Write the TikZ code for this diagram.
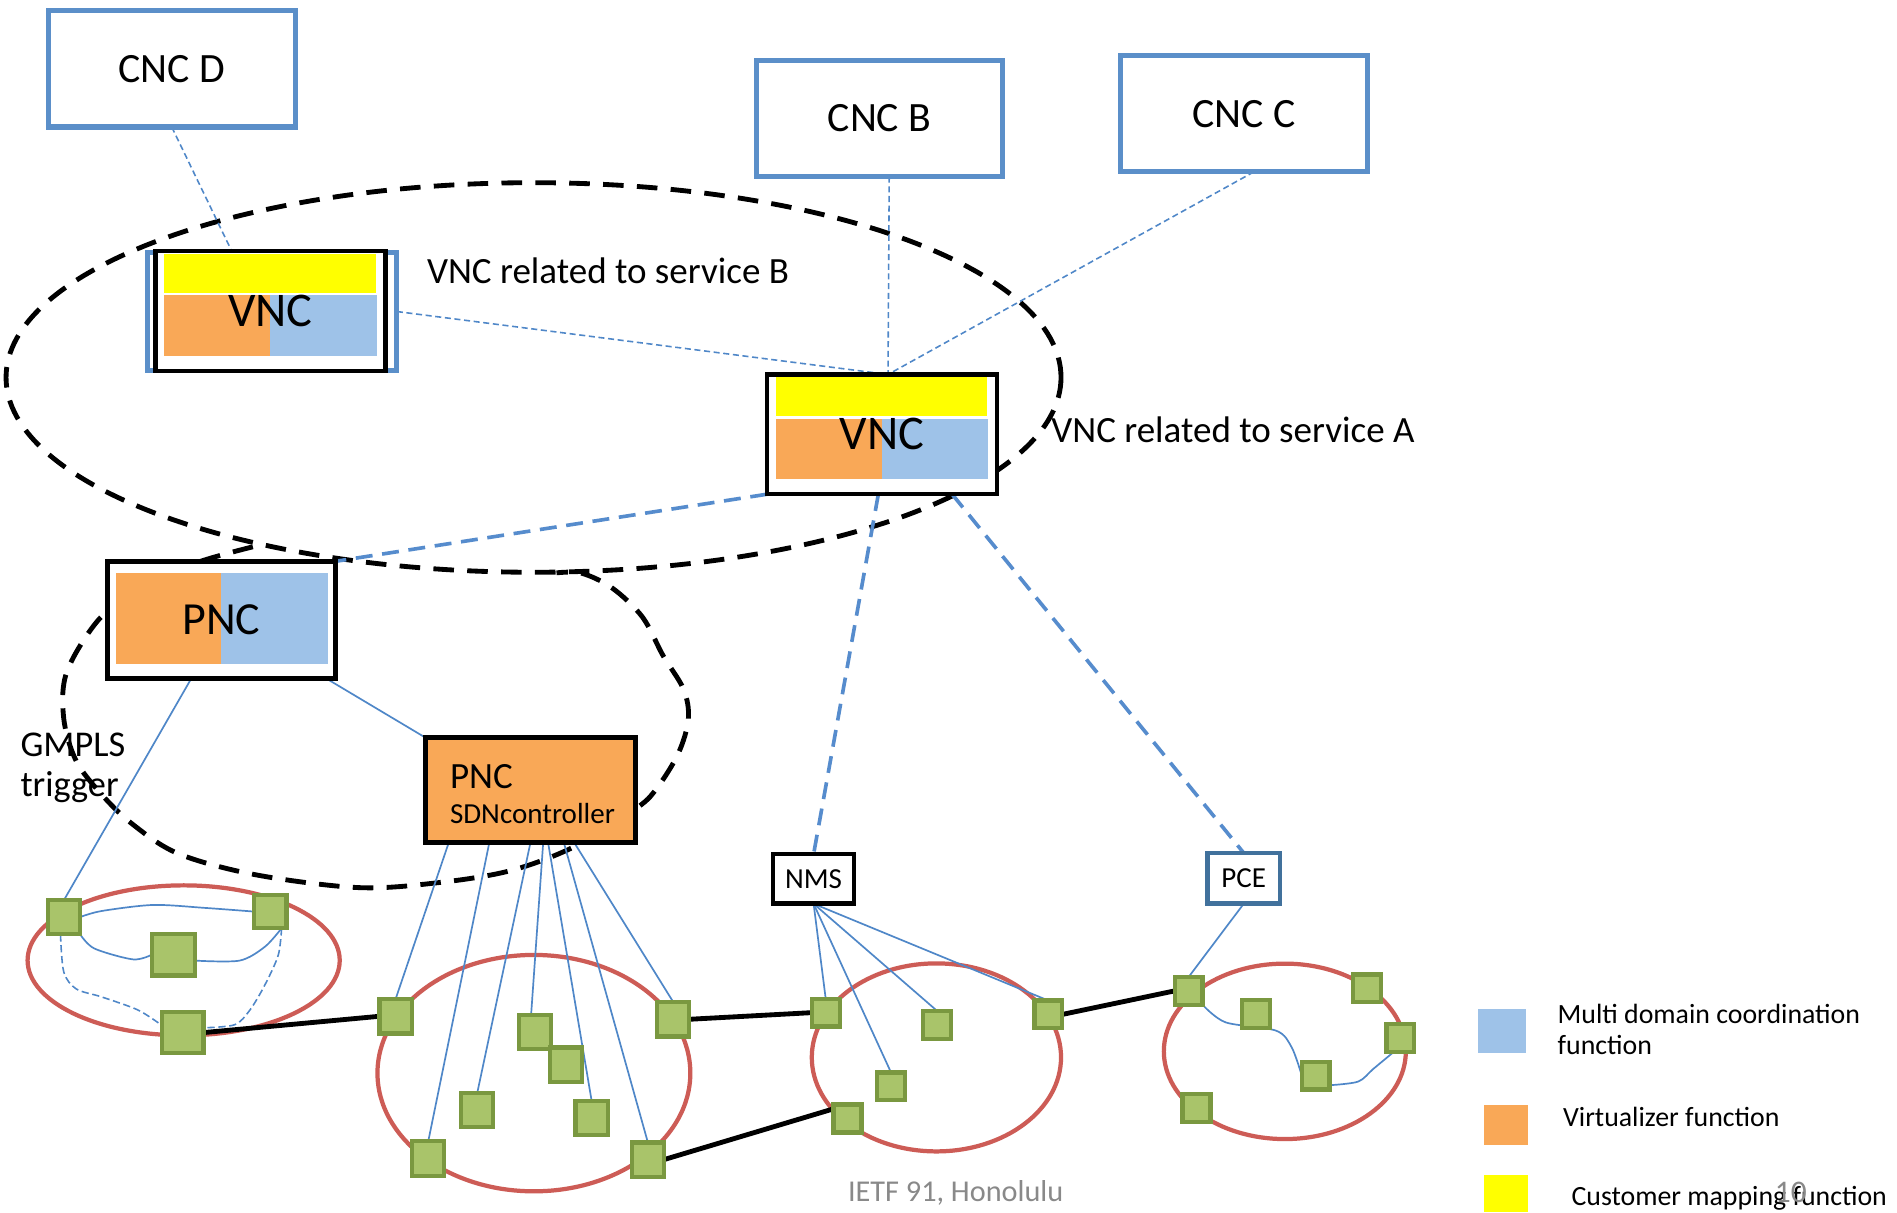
\documentclass[tikz,border=0pt]{standalone}
\usepackage{fontspec}
\setmainfont{Carlito}
\pgfdeclarelayer{paper}
\pgfdeclarelayer{back}
\pgfsetlayers{paper,back,main}
\definecolor{cncblue}{RGB}{91,143,201}
\definecolor{linkblue}{RGB}{86,140,205}
\definecolor{thinblue}{RGB}{79,135,200}
\definecolor{pceblue}{RGB}{65,113,156}
\definecolor{vorange}{RGB}{249,168,87}
\definecolor{mdblue}{RGB}{158,194,232}
\definecolor{cmyellow}{RGB}{255,255,0}
\definecolor{domred}{RGB}{205,92,86}
\definecolor{nodegreen}{RGB}{169,196,106}
\definecolor{nodeedge}{RGB}{122,152,64}
\definecolor{slidegray}{RGB}{137,137,137}
\newcommand{\fsz}[1]{\fontsize{#1pt}{#1pt}\selectfont}
\begin{document}
\begin{tikzpicture}[x=1pt,y=-1pt,
  every node/.style={inner sep=0pt,outer sep=0pt},
  cnc/.style={draw=cncblue,line width=4.2pt,fill=white,minimum width=204pt,minimum height=96pt,font=\fsz{34.5}},
  vncbox/.style={draw=black,line width=3.7pt,fill=white,minimum width=190pt,minimum height=99pt,font=\fsz{40},
    path picture={
      \coordinate (pc) at (path picture bounding box.center);
      \fill[cmyellow] ([shift={(-88pt,15pt)}]pc) rectangle ([shift={(87pt,47pt)}]pc);
      \fill[vorange] ([shift={(-88pt,-37pt)}]pc) rectangle ([shift={(0pt,13pt)}]pc);
      \fill[mdblue] ([shift={(0pt,-37pt)}]pc) rectangle ([shift={(88pt,13pt)}]pc);}},
  pncbox/.style={draw=black,line width=4pt,fill=white,minimum width=188pt,minimum height=97pt,font=\fsz{38},
    path picture={
      \coordinate (pc) at (path picture bounding box.center);
      \fill[vorange] ([shift={(-87pt,-36.5pt)}]pc) rectangle ([shift={(0pt,38.5pt)}]pc);
      \fill[mdblue] ([shift={(0pt,-36.5pt)}]pc) rectangle ([shift={(88pt,38.5pt)}]pc);}},
  sdnbox/.style={draw=black,line width=3.7pt,fill=vorange,minimum width=173.5pt,minimum height=86.5pt},
  smallbox/.style={draw=black,line width=3.8pt,fill=white,font=\fsz{24}},
  gnode/.style={draw=nodeedge,fill=nodegreen,line width=3.5pt,minimum width=26.5pt,minimum height=28.5pt},
  gsmall/.style={gnode,minimum width=23pt,minimum height=23pt},
  netring/.style={draw=domred,line width=3.5pt},
  ringdash/.style={draw=black,line width=4pt,dash pattern=on 17pt off 11pt},
  ctl/.style={draw=linkblue,line width=3pt,dash pattern=on 14pt off 8pt},
  cust/.style={draw=thinblue,line width=1.3pt,dash pattern=on 5pt off 3pt},
  wire/.style={draw=thinblue,line width=1.4pt},
  trunk/.style={draw=black,line width=4pt},
  lbl/.style={anchor=base west},
  key/.style={minimum width=36pt,minimum height=33pt}
]
\useasboundingbox (0,0) rectangle (1568,1002);
\begin{pgfonlayer}{paper}
  \fill[white] (0,0) rectangle (1568,1002);
\end{pgfonlayer}

% customer controllers
\node[cnc] (cncD) at (142,57) {CNC D};
\node[cnc] (cncB) at (727,98) {CNC B};
\node[cnc] (cncC) at (1028.5,94) {CNC C};

% virtual network controllers
\node[draw=cncblue,line width=4pt,minimum width=206pt,minimum height=98pt] (vncBframe) at (225,257.5) {};
\node[vncbox] (vncB) at (223.5,257) {VNC};
\node[vncbox] (vncA) at (729,359) {VNC};
\node[lbl,font=\fsz{30.6}] (svcB) at (353,234) {VNC related to service B};
\node[lbl,font=\fsz{30.6}] (svcA) at (869,366) {VNC related to service A};

% physical network controllers
\node[pncbox] (pnc) at (183,512.5) {PNC};
\node[sdnbox] (sdn) at (438.5,653) {};
\node[lbl,font=\fsz{30.6}] (sdnA) at (372,651.5) {PNC};
\node[lbl,font=\fsz{24}] (sdnB) at (372,680.5) {SDNcontroller};
\node[smallbox,minimum width=67pt,minimum height=41pt] (nms) at (672.5,726.5) {NMS};
\node[smallbox,draw=pceblue,minimum width=60pt,minimum height=42pt] (pce) at (1028,726) {PCE};
\node[lbl,font=\fsz{30}] (gmA) at (17,625.5) {GMPLS};
\node[lbl,font=\fsz{30}] (gmB) at (17,658.5) {trigger};

% domain 1
\node[gnode] (n1a) at (53,758) {};
\node[gnode,minimum height=27.5pt] (n1b) at (223.5,753.5) {};
\node[gnode,minimum width=35.5pt,minimum height=34.5pt] (n1c) at (143.5,789) {};
\node[gnode,minimum width=34.5pt,minimum height=33.5pt] (n1d) at (151,853.5) {};
% domain 2
\node[gnode] (n2a) at (327,840) {};
\node[gnode] (n2b) at (442,853) {};
\node[gnode] (n2c) at (468,880) {};
\node[gnode] (n2d) at (394.5,917.5) {};
\node[gnode] (n2g) at (489,924) {};
\node[gnode] (n2e) at (556.5,842.5) {};
\node[gnode] (n2h) at (354,957.5) {};
\node[gnode] (n2f) at (535.5,958.5) {};
% domain 3
\node[gsmall] (n3a) at (682.5,837) {};
\node[gsmall] (n3b) at (774.5,847) {};
\node[gsmall] (n3c) at (736.5,898) {};
\node[gsmall] (n3d) at (866.5,838.5) {};
\node[gsmall] (n3e) at (700.5,924.5) {};
% domain 4
\node[gsmall] (n4a) at (982.5,819) {};
\node[gsmall] (n4b) at (1038,838) {};
\node[gsmall] (n4c) at (1130,817) {};
\node[gsmall] (n4d) at (1157.5,858) {};
\node[gsmall] (n4e) at (1087.5,889) {};
\node[gsmall] (n4f) at (989,916) {};

% legend
\node[key,fill=mdblue,minimum width=39pt,minimum height=36pt] (keyMD) at (1241.5,852) {};
\node[key,fill=vorange] (keyVZ) at (1245,929.5) {};
\node[key,fill=cmyellow,minimum height=31pt] (keyCM) at (1245,986.5) {};
\node[lbl,font=\fsz{23}] (txMD) at (1287.5,846) {Multi domain coordination};
\node[lbl,font=\fsz{23}] (txMD2) at (1287.5,872) {function};
\node[lbl,font=\fsz{23}] (txVZ) at (1292,931.3) {Virtualizer function};
\node[lbl,font=\fsz{23}] (txCM) at (1299,996) {Customer mapping function};
\node[lbl,font=\fsz{25},text=slidegray] (foot) at (701,993.5) {IETF 91, Honolulu};
\node[lbl,font=\fsz{26},text=slidegray] (pageno) at (1467,993.6) {10};

\begin{pgfonlayer}{back}
  % network domains
  \draw[netring] (151.8,793.8) ellipse [x radius=129, y radius=62];
  \draw[netring] (441.3,887) ellipse [x radius=129.3, y radius=97.7];
  \draw[netring] (774,874) ellipse [x radius=103, y radius=77.7];
  \draw[netring] (1062,869) ellipse [x radius=100, y radius=72.5];

  % controller scopes
  \draw[ringdash] (441,312) ellipse [x radius=436, y radius=161];
  \draw[ringdash] plot[smooth,tension=0.55] coordinates {(209,452) (160,466) (110,490) (80,514) (55,556) (52.7,594) (63,629) (84.3,657) (109.6,681.3) (147.6,705.7) (211,723) (295,733.6) (358.4,730) (421.7,719.7) (476.5,699) (527,667.4) (544,650) (561,622) (569,594) (565,569.7) (548,541.8) (531,510) (506,486) (480.7,473.8) (460,473.5)};

  % customer to virtual controller sessions
  \draw[cust] (cncD.south) -- ([xshift=-32pt]vncB.north);
  \draw[cust] ([xshift=8pt]cncB.south) -- ([xshift=5pt]vncA.north);
  \draw[cust] ([xshift=8pt]cncC.south) -- ([xshift=5pt]vncA.north);
  \draw[cust] (vncBframe.east) -- ([xshift=5pt]vncA.north);

  % virtual to physical control
  \draw[ctl] (vncA.south west) -- (pnc.north east);
  \draw[ctl] ([xshift=-3pt]vncA.south) -- (nms.north);
  \draw[ctl] ([xshift=58pt]vncA.south) -- (pce.north);

  % southbound wires
  \draw[wire] ([xshift=-25pt]pnc.south) -- (n1a.north);
  \draw[wire] ([xshift=87pt]pnc.south) -- (sdn.north west);
  \draw[wire] ([xshift=-67.5pt]sdn.south) -- (n2a.north);
  \draw[wire] ([xshift=-34pt]sdn.south) -- (n2h.north);
  \draw[wire] (sdn.south) -- (n2d.north);
  \draw[wire] ([xshift=10.5pt]sdn.south) -- ([xshift=-3pt]n2b.north);
  \draw[wire] ([xshift=14.5pt]sdn.south) -- (n2g.north);
  \draw[wire] ([xshift=27.5pt]sdn.south) -- (n2f.north);
  \draw[wire] ([xshift=36pt]sdn.south) -- (n2e.north);
  \draw[wire] (nms.south) -- (n3a.north);
  \draw[wire] (nms.south) -- (n3c.north);
  \draw[wire] (nms.south) -- (n3b.north);
  \draw[wire] (nms.south) -- (n3d.north);
  \draw[wire] (pce.south) -- (n4a.north);

  % paths inside domain 1
  \draw[wire] plot[smooth] coordinates {(n1a.east) (84,753) (126.5,748) (169,750.4) (n1b.west)};
  \draw[wire] plot[smooth] coordinates {(n1a.south east) (78,784) (110,793) (n1c.west)};
  \draw[wire] plot[smooth] coordinates {([yshift=-5pt]n1c.east) (198,794) (219,782.5) ([xshift=-4pt]n1b.south east)};
  \draw[cust,dash pattern=on 6pt off 3pt] plot[smooth] coordinates {([xshift=-3pt]n1a.south) (52.7,803.4) (63,817.4) (84,824) (114,834.8) ([yshift=6pt]n1d.west)};
  \draw[cust,dash pattern=on 6pt off 3pt] plot[smooth] coordinates {([xshift=-4pt]n1b.south east) (230,789.5) (219,814) (206.6,834.8) (194,847) ([yshift=4pt]n1d.east)};

  % path inside domain 4
  \draw[wire] plot[smooth] coordinates {(n4a.south east) (1013,845) (1055,852) (1067.8,866) (n4e.west)};
  \draw[wire] plot[smooth] coordinates {([yshift=-8pt]n4e.east) (1122.6,894) (1135,883.6) ([xshift=6pt]n4d.south west)};

  % inter-domain links
  \draw[trunk] (n1d.east) -- (n2a.west);
  \draw[trunk] (n2e.east) -- (n3a.west);
  \draw[trunk] (n2f.east) -- ([yshift=8pt]n3e.west);
  \draw[trunk] (n3d.east) -- (n4a.west);
\end{pgfonlayer}
\end{tikzpicture}
\end{document}
